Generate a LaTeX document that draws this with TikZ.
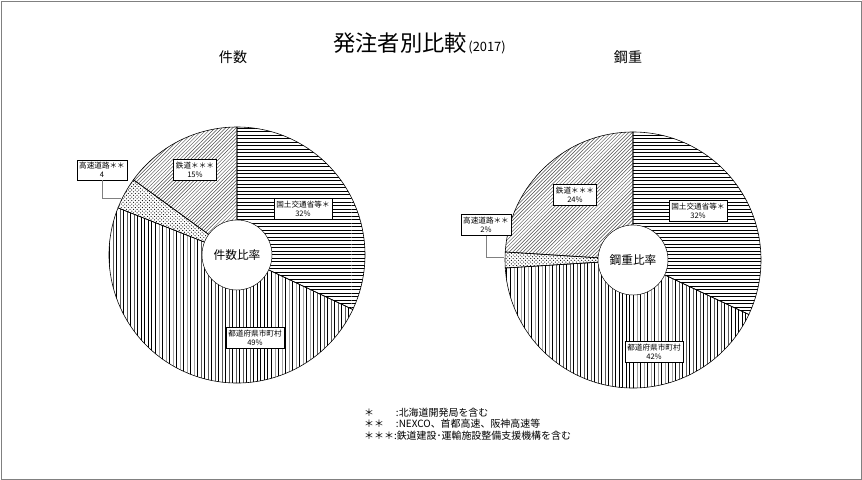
\documentclass[tikz,border=0pt]{standalone}
\usepackage{fontspec}
\setmainfont{Noto Sans CJK JP}
\usetikzlibrary{patterns}
\tikzset{
  lbl/.style={draw=black,fill=white,inner sep=2pt,font=\fontsize{6.5}{8}\selectfont,align=center},
  slice/.style={draw=black,line width=0.5pt},
}
\def\pie#1#2#3#4{\fill[#4] (#1) -- ++(#2:128) arc (#2:#3:128) -- cycle;\draw[slice] (#1) -- ++(#2:128) arc (#2:#3:128) -- cycle;}
\begin{document}
\begin{tikzpicture}[x=0.03cm,y=0.03cm]
\useasboundingbox (0,0) rectangle (862,-480);
\draw[gray,line width=0.8pt] (1,-1) rectangle (861,-479);
\node[inner sep=0pt] (title) at (400,-43) {\fontsize{19}{21}\selectfont 発注者別比較};
\node[anchor=base west,inner sep=1pt] (year) at (title.base east) {\fontsize{11}{13}\selectfont (2017)};
\node (kensu) at (233,-57) {\fontsize{12}{14}\selectfont 件数};
\node (kojyu) at (628,-57) {\fontsize{12}{14}\selectfont 鋼重};

% ---- left pie
\coordinate (lc) at (237,-255);
\pie{lc}{90}{-25.2}{pattern=horizontal lines}
\pie{lc}{-25.2}{-201.6}{pattern=vertical lines}
\pie{lc}{158.4}{144}{pattern=crosshatch dots}
\pie{lc}{144}{90}{pattern=north east lines,pattern color=black!70}
\node[circle,draw,fill=white,minimum size=2.1cm] (lhole) at (lc) {件数比率};
\node[lbl] (lmlit) at (303,-209) {国土交通省等＊\\32\%};
\node[lbl] (lpref) at (255,-338) {都道府県市町村\\49\%};
\node[lbl] (lrail) at (195,-170) {鉄道＊＊＊\\15\%};
\node[lbl] (lhwy) at (102,-170) {高速道路＊＊\\4};
\coordinate (lhwyend) at (121,-198);
\draw[gray] (lhwy.south) |- (lhwyend);

% ---- right pie
\coordinate (rc) at (633,-260);
\pie{rc}{90}{-25.2}{pattern=horizontal lines}
\pie{rc}{-25.2}{-176.4}{pattern=vertical lines}
\pie{rc}{183.6}{176.4}{pattern=crosshatch dots}
\pie{rc}{176.4}{90}{pattern=north east lines,pattern color=black!70}
\node[circle,draw,fill=white,minimum size=2.1cm] (rhole) at (rc) {鋼重比率};
\node[lbl] (rmlit) at (698,-211) {国土交通省等＊\\32\%};
\node[lbl] (rpref) at (654,-352) {都道府県市町村\\42\%};
\node[lbl] (rrail) at (575,-195) {鉄道＊＊＊\\24\%};
\node[lbl] (rhwy) at (486,-225) {高速道路＊＊\\2\%};
\coordinate (rhwyend) at (504,-257);
\draw[gray] (rhwy.south) |- (rhwyend);

% ---- notes
\node[anchor=west,font=\fontsize{8.5}{10}\selectfont,align=left] (notes) at (360,-424)
  {＊\hspace{2.2em}:北海道開発局を含む\\＊＊\hspace{1.2em}:NEXCO、首都高速、阪神高速等\\＊＊＊:鉄道建設･運輸施設整備支援機構を含む};
\end{tikzpicture}
\end{document}
